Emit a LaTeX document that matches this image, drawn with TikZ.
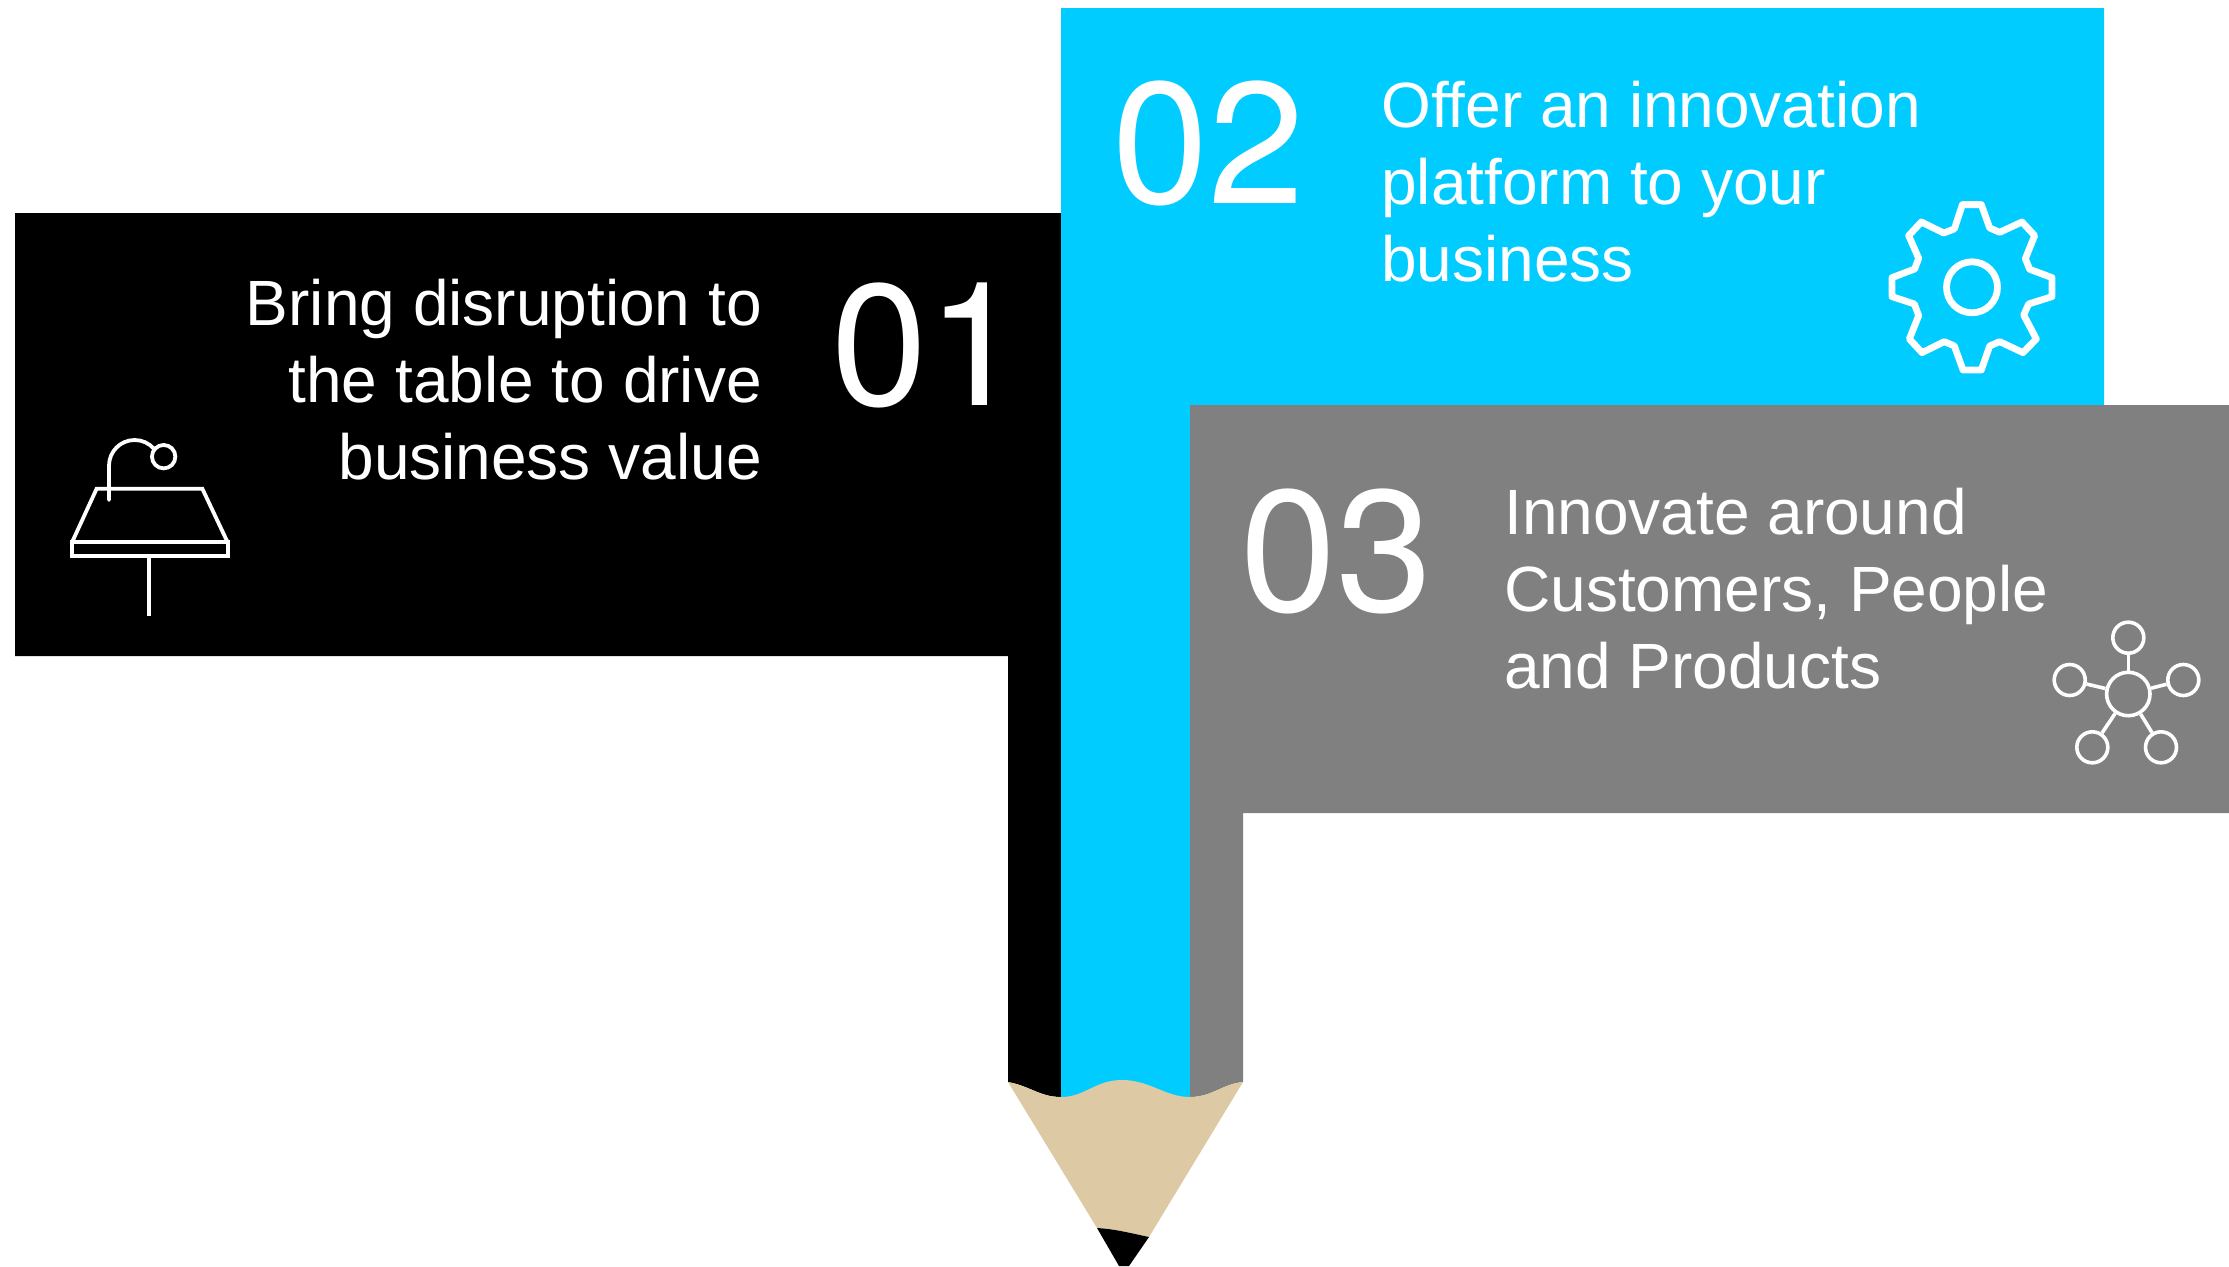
\documentclass[tikz,border=0pt]{standalone}
\usepackage{fontspec}
\setmainfont{Liberation Sans}
\newfontfamily\numfont{TeX Gyre Heros}
\definecolor{skyc}{HTML}{00CCFF}
\definecolor{grayc}{HTML}{808080}
\definecolor{woodc}{HTML}{DDC9A3}
\tikzset{
  bignum/.style={text=white,inner sep=0pt,anchor=base west,font=\numfont\fontsize{173}{173}\selectfont},
  bodytext/.style={text=white,inner sep=0pt,font=\fontsize{64}{77}\selectfont},
  hub/.style={circle,draw=white,line width=3.6pt,inner sep=0pt},
  hubline/.style={draw=white,line width=3.6pt},
  iconline/.style={draw=white,line width=3.8pt,line join=miter},
  gearline/.style={draw=white,line width=6.8pt,line join=round}
}
\begin{document}
\begin{tikzpicture}[x=1pt,y=-1pt]
\useasboundingbox (0,0) rectangle (2229,1266);
\fill[black] (15,213) -- (1061,213) -- (1061,1097) .. controls (1040,1097) and (1030,1086) .. (1008,1082) -- (1008,656) -- (15,656) -- cycle;
\fill[skyc] (1061,8) -- (2104,8) -- (2104,405) -- (1190,405) -- (1190,1097) -- (1061,1097) -- cycle;
\fill[grayc] (1190,405) -- (2229,405) -- (2229,813) -- (1243,813) -- (1243,1082) .. controls (1222,1084) and (1212,1097) .. (1190,1097) -- cycle;
\fill[woodc] (1008,1082) .. controls (1030,1086) and (1040,1097) .. (1061,1097)
  .. controls (1085,1097) and (1095,1080) .. (1122,1080)
  .. controls (1150,1080) and (1165,1097) .. (1190,1097)
  .. controls (1212,1097) and (1222,1084) .. (1243,1082)
  -- (1149,1237) .. controls (1130,1233) and (1115,1229) .. (1097,1228) -- cycle;
\fill[black] (1097,1228) .. controls (1115,1229) and (1130,1233) .. (1149,1237)
  -- (1129,1266) -- (1119,1266) -- cycle;
\node[bignum] (numa) at (831,405) {01};
\node[bignum] (numb) at (1112,203) {02};
\node[bignum] (numc) at (1240,611) {03};
\node[bodytext,align=right,anchor=north east] (texta) at (762,279) {Bring disruption to\\the table to drive\\business value};
\node[bodytext,align=left,anchor=north west] (textb) at (1381,81) {Offer an innovation\\platform to your\\business};
\node[bodytext,align=left,anchor=north west] (textc) at (1504,488) {Innovate around\\Customers, People\\and Products};
% lamp icon
\begin{scope}[shift={(40,400)},x=0.3333pt,y=-0.3333pt]
\draw[iconline] (97,425) rectangle (565,468);
\draw[iconline] (97,425) -- (170,266) -- (487,266) -- (562,425);
\draw[iconline] (328,468) -- (328,648);
\draw[iconline,line cap=round] (207,300) -- (207,197) arc[start angle=180,end angle=320,radius=77];
\draw[iconline] (371,170) circle[radius=11.7pt];
\end{scope}
% gear icon
\begin{scope}[shift={(1972,287.3)},x=0.3333pt,y=-0.3333pt]
\draw[gearline] (-29,-248) -- (28,-248) -- (53,-178) -- (83,-165) -- (150,-196) -- (188,-155) -- (160,-86) -- (173,-54)
 -- (240,-29) -- (240,28) -- (170,50) -- (155,83) -- (193,155) -- (153,196) -- (83,163) -- (53,176)
 -- (28,248) -- (-27,248) -- (-53,176) -- (-83,163) -- (-150,196) -- (-188,155) -- (-160,85) -- (-173,50)
 -- (-240,28) -- (-240,-29) -- (-172,-55) -- (-160,-87) -- (-190,-155) -- (-152,-196) -- (-85,-163) -- (-53,-175) -- cycle;
\draw[gearline] (0,0) circle[radius=25.5pt];
\end{scope}
% hub icon
\node[hub,minimum size=43.4pt] (hc) at (2128.3,694) {};
\node[hub,minimum size=31pt] (ht) at (2128.3,637.7) {};
\node[hub,minimum size=31pt] (hl) at (2069.7,680) {};
\node[hub,minimum size=31pt] (hr) at (2183.3,680) {};
\node[hub,minimum size=31pt] (hbl) at (2092.3,747.3) {};
\node[hub,minimum size=31pt] (hbr) at (2161,747.3) {};
\foreach \n in {ht,hl,hr,hbl,hbr} \draw[hubline] (hc) -- (\n);
\end{tikzpicture}
\end{document}
